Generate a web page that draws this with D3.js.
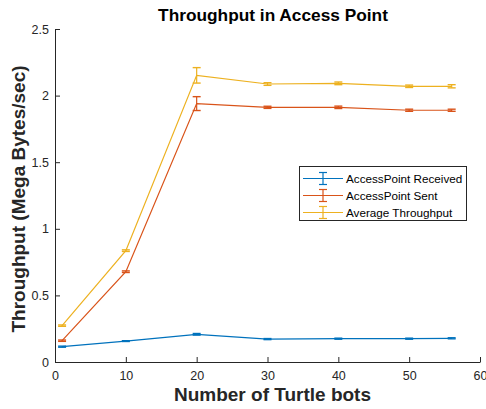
<!DOCTYPE html>
<html><head><meta charset="utf-8">
<script src="https://cdn.jsdelivr.net/npm/d3@7"></script>
<style>body{margin:0;background:#fff}svg{display:block;font-family:"Liberation Sans",Arial,sans-serif}</style>
</head><body><svg id="c" width="486" height="409"></svg>
<script>
const xs = [1, 10, 20, 30, 40, 50, 56];
const received = [0.115, 0.157, 0.208, 0.172, 0.175, 0.175, 0.178];
const receivedErr = [0.004, 0.003, 0.006, 0.004, 0.004, 0.004, 0.004];
const sent = [0.16, 0.678, 1.94, 1.912, 1.912, 1.89, 1.89];
const sentErr = [0.005, 0.006, 0.052, 0.008, 0.009, 0.008, 0.008];
const avg = [0.273, 0.836, 2.152, 2.087, 2.092, 2.07, 2.07];
const avgErr = [0.005, 0.006, 0.058, 0.01, 0.01, 0.009, 0.012];
const seriesNames = ["AccessPoint Received", "AccessPoint Sent", "Average Throughput"];
const colors = ["#0072BD", "#D95319", "#EDB120"];
const xTicks = [0, 10, 20, 30, 40, 50, 60];
const yTicks = [0, 0.5, 1, 1.5, 2, 2.5];

const svg = d3.select("#c");
const L = 55, R = 480, T = 29, B = 362;
const x = d3.scaleLinear().domain([0, 60]).range([L, R]);
const y = d3.scaleLinear().domain([0, 2.5]).range([B, T]);
const ax = "#262626";

const series = [[received, receivedErr], [sent, sentErr], [avg, avgErr]];

// axes
const gx = svg.append("g").attr("transform", `translate(0,${B})`)
  .call(d3.axisBottom(x).tickValues(xTicks).tickFormat(d3.format("d")).tickSizeInner(-5).tickSizeOuter(0).tickPadding(9));
const gy = svg.append("g").attr("transform", `translate(${L},0)`)
  .call(d3.axisLeft(y).tickValues(yTicks).tickFormat(d => d === 0 ? "0" : String(d)).tickSizeInner(-5).tickSizeOuter(0).tickPadding(6));
[gx, gy].forEach(g => {
  g.select(".domain").attr("stroke", ax).attr("stroke-width", 1);
  g.selectAll(".tick line").attr("stroke", ax);
  g.selectAll(".tick text").attr("fill", ax).attr("font-size", 12.5).attr("font-family", "Liberation Sans, Arial, sans-serif");
});

// series
const line = d3.line().x(d => x(d[0])).y(d => y(d[1]));
series.forEach((s, i) => {
  const [vals, errs] = s;
  const pts = xs.map((xv, j) => [xv, vals[j], errs[j]]);
  const g = svg.append("g");
  g.append("path").datum(pts).attr("d", line).attr("fill", "none").attr("stroke", colors[i]).attr("stroke-width", 1.2);
  pts.forEach(p => {
    const cx = x(p[0]), y1 = y(p[1] - p[2]), y2 = y(p[1] + p[2]);
    g.append("line").attr("x1", cx).attr("x2", cx).attr("y1", y1).attr("y2", y2).attr("stroke", colors[i]).attr("stroke-width", 1.2);
    [y1, y2].forEach(yy => g.append("line").attr("x1", cx - 4).attr("x2", cx + 4).attr("y1", yy).attr("y2", yy).attr("stroke", colors[i]).attr("stroke-width", 1.4));
  });
});

// title and labels
svg.append("text").attr("x", 273).attr("y", 21).attr("text-anchor", "middle").attr("font-weight", "bold").attr("font-size", 17.3).attr("fill", "#000").text("Throughput in Access Point");
svg.append("text").attr("x", 272.5).attr("y", 401).attr("text-anchor", "middle").attr("font-weight", "bold").attr("font-size", 19).attr("fill", ax).text("Number of Turtle bots");
svg.append("text").attr("transform", "translate(25,199) rotate(-90)").attr("text-anchor", "middle").attr("font-weight", "bold").attr("font-size", 19).attr("fill", ax).text("Throughput (Mega Bytes/sec)");

// legend
const lg = svg.append("g");
lg.append("rect").attr("x", 299.5).attr("y", 166.5).attr("width", 167).attr("height", 54).attr("fill", "#fff").attr("stroke", ax).attr("stroke-width", 1);
seriesNames.forEach((n, i) => {
  const yy = 178.5 + i * 17;
  lg.append("line").attr("x1", 303).attr("x2", 343).attr("y1", yy).attr("y2", yy).attr("stroke", colors[i]).attr("stroke-width", 1.2);
  lg.append("line").attr("x1", 323).attr("x2", 323).attr("y1", yy - 6).attr("y2", yy + 6).attr("stroke", colors[i]).attr("stroke-width", 1.2);
  [yy - 6, yy + 6].forEach(cy => lg.append("line").attr("x1", 319).attr("x2", 327).attr("y1", cy).attr("y2", cy).attr("stroke", colors[i]).attr("stroke-width", 1.2));
  lg.append("text").attr("x", 346).attr("y", yy + 4).attr("font-size", 11.7).attr("fill", "#000").text(n);
});
</script></body></html>
